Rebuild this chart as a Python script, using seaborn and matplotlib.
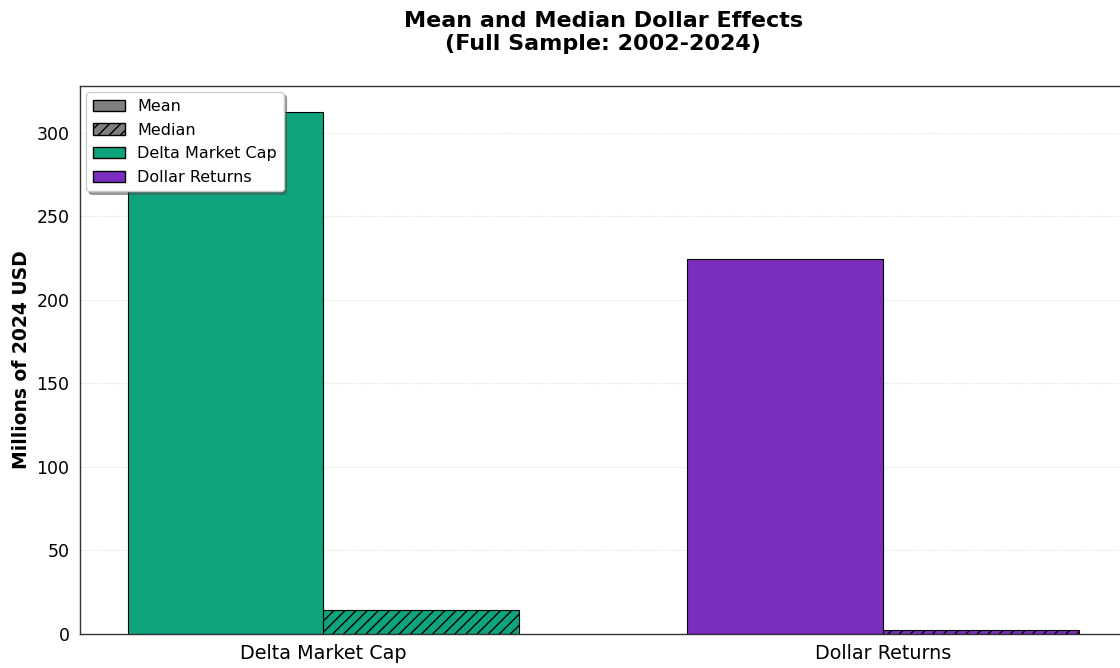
import numpy as np
import pandas as pd
import seaborn as sns
import matplotlib.pyplot as plt
from matplotlib.patches import Patch

# Values (millions of 2024 USD)
metrics = ['Delta Market Cap', 'Dollar Returns']
mean_vals = [312.5, 224.5]
median_vals = [14.5, 2.6]
colors = {'Delta Market Cap': '#0ea47c', 'Dollar Returns': '#7b2dbf'}

df = pd.DataFrame({
    'Metric': metrics * 2,
    'Stat': ['Mean'] * 2 + ['Median'] * 2,
    'Value': mean_vals + median_vals,
})

sns.set_style('white')
plt.rcParams['font.family'] = ['DejaVu Sans']
plt.rcParams['text.color'] = 'black'
plt.rcParams['axes.labelcolor'] = 'black'
plt.rcParams['xtick.color'] = 'black'
plt.rcParams['ytick.color'] = 'black'

fig = plt.figure(figsize=(11.2, 6.68), dpi=100)
ax = fig.add_axes([0.0714, 0.0509, 0.9345, 0.8204])

sns.barplot(data=df, x='Metric', y='Value', hue='Stat', width=0.7,
            errorbar=None, ax=ax, legend=False)

# patches come ordered by hue, then by category
for i, p in enumerate(ax.patches[:4]):
    stat = 'Mean' if i < 2 else 'Median'
    m = metrics[i % 2]
    p.set_facecolor(colors[m])
    p.set_edgecolor('black')
    p.set_linewidth(0.8)
    if stat == 'Median':
        p.set_hatch('///')

ax.set_xlim(-0.435, 1.435)
ax.grid(axis='y', linestyle=':', alpha=0.3, color='gray')
ax.set_axisbelow(True)
for s in ax.spines.values():
    s.set_color('#333333')
    s.set_linewidth(1)
ax.tick_params(axis='both', length=4, color='#333333')
ax.tick_params(axis='x', labelsize=13.8)
ax.tick_params(axis='y', labelsize=12.5)
ax.set_xlabel('')
ax.set_ylabel('Millions of 2024 USD', fontsize=13.5, fontweight='bold', labelpad=4)
ax.set_title('Mean and Median Dollar Effects\n(Full Sample: 2002-2024)',
             fontsize=16, fontweight='bold', pad=26)

handles = [
    Patch(facecolor='gray', edgecolor='black', label='Mean'),
    Patch(facecolor='gray', edgecolor='black', hatch='///', label='Median'),
    Patch(facecolor=colors['Delta Market Cap'], edgecolor='black', label='Delta Market Cap'),
    Patch(facecolor=colors['Dollar Returns'], edgecolor='black', label='Dollar Returns'),
]
ax.legend(handles=handles, loc='upper left', fontsize=11.5, frameon=True,
          shadow=True, fancybox=True, framealpha=1, borderpad=0.4,
          handlelength=2.0, labelspacing=0.55, borderaxespad=0.4)

plt.savefig('out.png', dpi=100)
